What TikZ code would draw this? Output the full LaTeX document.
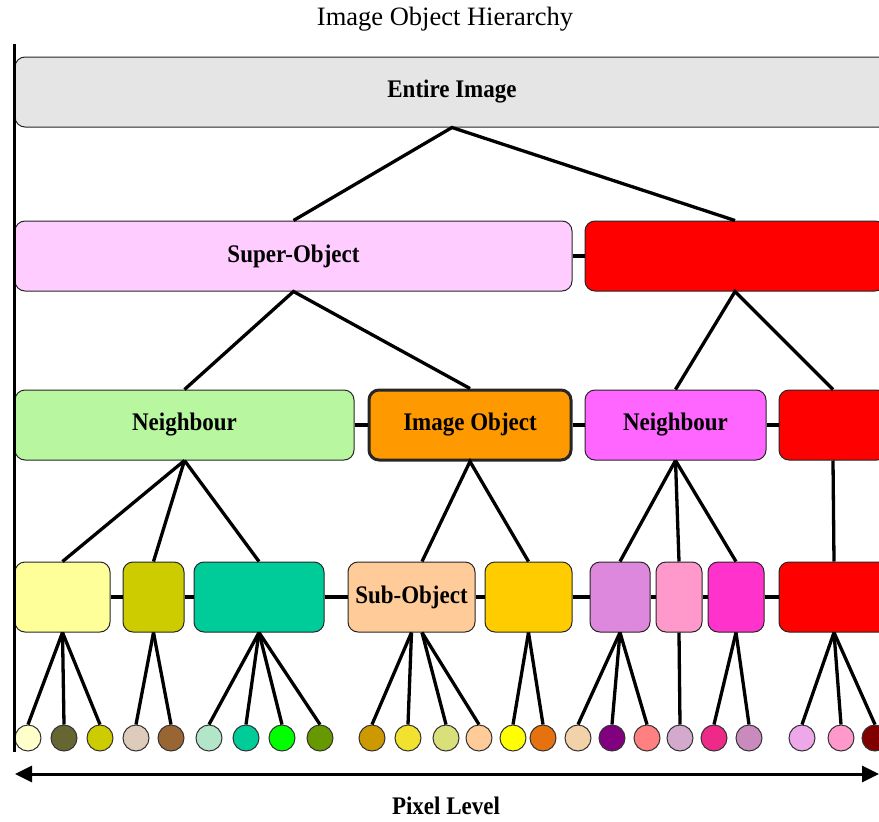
\documentclass[tikz,border=0pt]{standalone}
\usepackage{fontspec}
\setmainfont{Liberation Serif}
\usetikzlibrary{arrows.meta,calc}
\newcommand\lblfont{\fontsize{23}{27}\selectfont\bfseries}
\newcommand\titlefont{\fontsize{26.5}{30}\selectfont}
\newcommand\tall[1]{\raisebox{-2.5pt}{\scalebox{1}[1.1]{#1}}}
\begin{document}
\begin{tikzpicture}[x=1pt,y=-1pt,
  box/.style={draw=black!85, line width=1pt, rounded corners=10pt,
    minimum height=70pt, inner sep=0pt, font=\lblfont},
  link/.style={line width=3.3pt},
  px/.style={circle, draw=black!80, line width=1pt, minimum size=26pt, inner sep=0pt}]
\useasboundingbox (0,0) rectangle (879,822);

% title
\node[font=\titlefont] (title) at (445,19) {Image Object Hierarchy};

% level 1
\node[box, fill=black!10, minimum width=874pt] (E) at (452,92) {\tall{Entire Image}};

% level 2
\node[box, fill={rgb,255:red,255;green,204;blue,255}, minimum width=557pt] (S) at (293.5,256) {\tall{Super-Object}};
\node[box, fill=red, minimum width=300pt] (R2) at (735,256) {};

% level 3
\node[box, fill={rgb,255:red,185;green,246;blue,160}, minimum width=339pt] (N1) at (184.5,425) {\tall{Neighbour}};
\node[box, fill={rgb,255:red,255;green,153;blue,0}, line width=3pt, minimum width=202pt] (IO) at (470,425) {\tall{Image Object}};
\node[box, fill={rgb,255:red,255;green,102;blue,255}, minimum width=181pt] (N2) at (675.5,425) {\tall{Neighbour}};
\node[box, fill=red, minimum width=108pt] (R3) at (833,425) {};

% level 4
\node[box, fill={rgb,255:red,255;green,255;blue,153}, minimum width=95pt] (A) at (62.5,597) {};
\node[box, fill={rgb,255:red,204;green,204;blue,0}, minimum width=61pt] (B) at (153.5,597) {};
\node[box, fill={rgb,255:red,0;green,204;blue,153}, minimum width=130pt] (C) at (259,597) {};
\node[box, fill={rgb,255:red,255;green,204;blue,153}, minimum width=127pt] (SO) at (411.5,597) {\tall{Sub-Object}};
\node[box, fill={rgb,255:red,255;green,204;blue,0}, minimum width=87pt] (Y) at (528.5,597) {};
\node[box, fill={rgb,255:red,221;green,136;blue,221}, minimum width=60pt] (F) at (620,597) {};
\node[box, fill={rgb,255:red,255;green,153;blue,204}, minimum width=46pt] (G) at (679,597) {};
\node[box, fill={rgb,255:red,255;green,51;blue,204}, minimum width=56pt] (H) at (736,597) {};
\node[box, fill=red, minimum width=110pt] (I) at (834,597) {};

% pixels
\foreach \n/\x/\r/\g/\b in {
  1/28/255/255/204, 2/64/102/102/51, 3/100/204/204/0, 4/136/221/204/187,
  5/171/153/102/51, 6/209/179/230/200, 7/246/0/204/153, 8/282/0/255/0,
  9/320/102/153/0, 10/372/204/153/0, 11/408/240/226/46, 12/446/217/224/122,
  13/479/255/204/153, 14/513/255/255/0, 15/543/230/114/15, 16/578/242/210/168,
  17/612/128/0/128, 18/647/255/128/128, 19/680/211/170/203, 20/714/238/42/136,
  21/749/201/139/190, 22/802/238/168/234, 23/841/255/153/204, 24/875/128/0/0}
  \node[px, fill={rgb,255:red,\r;green,\g;blue,\b}] (p\n) at (\x,738) {};

% same-level neighbours
\draw[link] (S) -- (R2);
\draw[link] (N1) -- (IO);
\draw[link] (IO) -- (N2);
\draw[link] (N2) -- (R3);
\foreach \u/\v in {A/B, B/C, C/SO, SO/Y, Y/F, F/G, G/H, H/I}
  \draw[link] (\u) -- (\v);

% hierarchy
\draw[link] (S.north) -- (E.south) -- (R2.north);
\draw[link] (N1.north) -- (S.south) -- (IO.north);
\draw[link] (N2.north) -- (R2.south) -- (R3.north);
\foreach \c in {A,B,C} \draw[link] (N1.south) -- (\c.north);
\coordinate (SOtop) at ($(SO.north)+(10.5,0)$);
\coordinate (SOb) at ($(SO.south)+(10.5,0)$);
\draw[link] (SOtop) -- (IO.south) -- (Y.north);
\foreach \c in {F,G,H} \draw[link] (N2.south) -- (\c.north);
\draw[link] (R3.south) -- (I.north);

% pixel links
\foreach \c in {1,2,3} \draw[link] (A.south) -- (p\c.north);
\foreach \c in {4,5} \draw[link] (B.south) -- (p\c.north);
\foreach \c in {6,7,8,9} \draw[link] (C.south) -- (p\c.north);
\foreach \c in {10,11} \draw[link] (SO.south) -- (p\c.north);
\foreach \c in {12,13} \draw[link] (SOb) -- (p\c.north);
\foreach \c in {14,15} \draw[link] (Y.south) -- (p\c.north);
\foreach \c in {16,17,18} \draw[link] (F.south) -- (p\c.north);
\draw[link] (G.south) -- (p19.north);
\foreach \c in {20,21} \draw[link] (H.south) -- (p\c.north);
\foreach \c in {22,23,24} \draw[link] (I.south) -- (p\c.north);

% level axis
\coordinate (axT) at (14,44);
\coordinate (axB) at (14,752);
\draw[line width=3pt] (axT) -- (axB);

% pixel-level arrow
\coordinate (arL) at (15,774);
\coordinate (arR) at (879,774);
\draw[line width=3pt, {Triangle[length=17pt,width=16pt]}-{Triangle[length=17pt,width=16pt]}] (arL) -- (arR);
\node[font=\lblfont] (pl) at (446,806) {\tall{Pixel Level}};
\end{tikzpicture}
\end{document}
